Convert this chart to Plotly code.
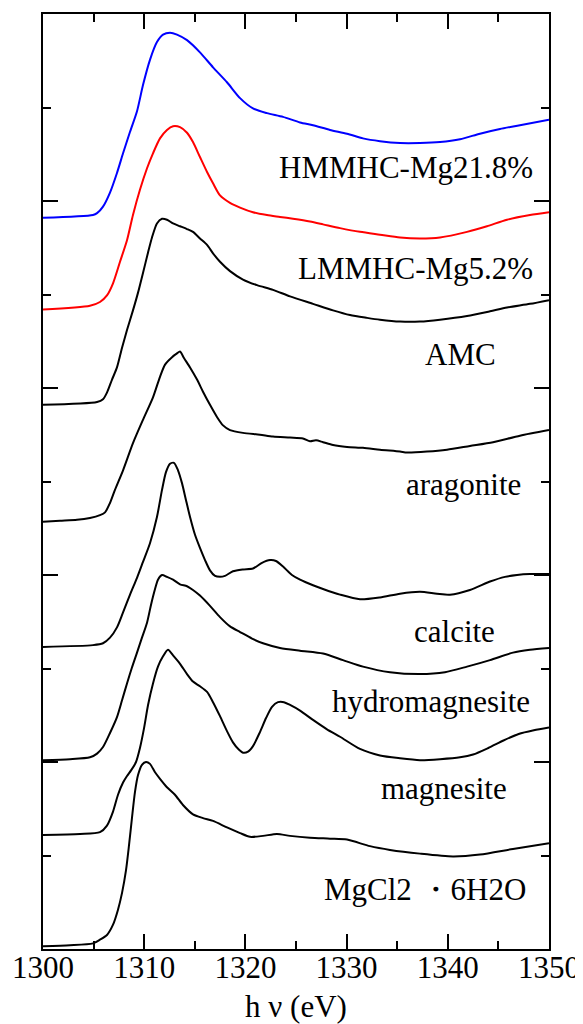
import plotly.graph_objects as go

# ---- data (energy in eV, normalized intensity with offsets) ----
labels = ["HMMHC-Mg21.8%", "LMMHC-Mg5.2%", "AMC", "aragonite", "calcite",
          "hydromagnesite", "magnesite", "MgCl2 \u30fb6H2O"]
colors = ["#0000ff", "#ff0000", "#000000", "#000000", "#000000",
          "#000000", "#000000", "#000000"]

hmmhc_e = [1300.0, 1304.94, 1305.34, 1305.93, 1306.62, 1307.31, 1307.91, 1308.60, 1309.29, 1309.88,
           1310.57, 1311.26, 1311.86, 1312.55, 1313.24, 1314.23, 1315.51, 1316.80, 1318.18, 1319.47,
           1320.75, 1322.13, 1323.72, 1325.40, 1326.68, 1328.36, 1330.04, 1331.62, 1333.30, 1335.28,
           1337.25, 1339.23, 1341.21, 1343.18, 1345.16, 1347.13, 1350.0]
hmmhc_y = [7.82, 7.85, 7.87, 7.94, 8.09, 8.30, 8.51, 8.74, 8.96, 9.24,
           9.51, 9.70, 9.78, 9.80, 9.78, 9.72, 9.59, 9.43, 9.27, 9.10,
           8.99, 8.94, 8.90, 8.84, 8.81, 8.76, 8.72, 8.67, 8.64, 8.62,
           8.62, 8.63, 8.66, 8.72, 8.77, 8.81, 8.87]

lmmhc_e = [1300.0, 1304.64, 1305.63, 1306.32, 1306.92, 1307.61, 1308.30, 1308.89, 1309.58, 1310.28,
           1310.87, 1311.56, 1312.25, 1312.85, 1313.54, 1314.23, 1314.82, 1315.51, 1316.21, 1316.80,
           1317.49, 1318.48, 1319.47, 1320.75, 1322.13, 1323.42, 1324.70, 1326.38, 1327.67, 1329.35,
           1331.32, 1333.30, 1335.28, 1337.25, 1339.23, 1341.90, 1343.87, 1345.85, 1348.12, 1350.0]
lmmhc_y = [6.84, 6.88, 6.92, 6.99, 7.12, 7.35, 7.58, 7.85, 8.12, 8.35,
           8.51, 8.67, 8.76, 8.80, 8.79, 8.73, 8.63, 8.47, 8.31, 8.19,
           8.06, 7.98, 7.93, 7.88, 7.85, 7.83, 7.81, 7.78, 7.75, 7.71,
           7.67, 7.64, 7.61, 7.60, 7.61, 7.67, 7.73, 7.80, 7.85, 7.88]

amc_e = [1300.0, 1305.34, 1305.93, 1306.32, 1306.82, 1307.31, 1307.81, 1308.30, 1308.89, 1309.39,
         1309.88, 1310.38, 1310.77, 1311.26, 1311.76, 1312.25, 1312.85, 1313.54, 1314.23, 1314.82,
         1315.51, 1316.21, 1316.80, 1317.49, 1318.48, 1319.76, 1321.15, 1322.73, 1324.41, 1326.68,
         1328.66, 1330.34, 1332.02, 1333.30, 1335.28, 1337.25, 1339.23, 1341.90, 1344.17, 1345.85,
         1348.12, 1350.0]
amc_y = [5.82, 5.85, 5.88, 5.95, 6.09, 6.22, 6.43, 6.62, 6.83, 7.02,
         7.23, 7.45, 7.61, 7.76, 7.81, 7.80, 7.76, 7.73, 7.70, 7.67,
         7.60, 7.53, 7.44, 7.35, 7.25, 7.16, 7.10, 7.05, 6.98, 6.90,
         6.83, 6.78, 6.75, 6.73, 6.71, 6.71, 6.73, 6.77, 6.82, 6.86,
         6.90, 6.94]

arag_e = [1300.0, 1301.68, 1303.36, 1304.64, 1305.63, 1306.13, 1306.62, 1307.11, 1307.91, 1308.89,
          1309.88, 1310.87, 1311.56, 1312.06, 1312.75, 1313.24, 1313.54, 1313.93, 1314.53, 1315.22,
          1315.81, 1316.50, 1317.19, 1317.79, 1318.48, 1319.76, 1321.44, 1322.73, 1324.41, 1325.69,
          1326.38, 1326.98, 1327.67, 1328.66, 1330.04, 1331.62, 1333.30, 1335.28, 1335.97, 1337.94,
          1339.92, 1342.19, 1344.47, 1347.13, 1350.0]
arag_y = [4.57, 4.58, 4.59, 4.61, 4.64, 4.67, 4.77, 4.91, 5.12, 5.41,
          5.66, 5.90, 6.12, 6.25, 6.33, 6.37, 6.39, 6.32, 6.22, 6.09,
          5.96, 5.82, 5.69, 5.60, 5.55, 5.52, 5.50, 5.48, 5.47, 5.46,
          5.43, 5.44, 5.42, 5.39, 5.37, 5.36, 5.34, 5.32, 5.31, 5.32,
          5.34, 5.38, 5.42, 5.49, 5.55]

calc_e = [1300.0, 1304.94, 1305.93, 1306.62, 1307.31, 1307.91, 1308.60, 1309.29, 1309.88, 1310.57,
          1311.26, 1311.76, 1312.15, 1312.55, 1312.94, 1313.34, 1313.74, 1314.13, 1314.53, 1315.02,
          1315.51, 1316.01, 1316.50, 1317.00, 1317.49, 1317.98, 1318.77, 1319.76, 1320.75, 1321.64,
          1322.43, 1323.02, 1323.72, 1324.60, 1325.40, 1326.68, 1327.67, 1329.35, 1331.32, 1333.30,
          1335.28, 1337.25, 1338.93, 1340.22, 1342.19, 1344.17, 1345.65, 1346.84, 1348.12, 1350.0]
calc_y = [3.23, 3.25, 3.27, 3.33, 3.44, 3.60, 3.79, 3.97, 4.14, 4.34,
          4.62, 4.91, 5.10, 5.19, 5.20, 5.12, 4.98, 4.80, 4.62, 4.43,
          4.29, 4.16, 4.05, 3.99, 3.98, 3.99, 4.04, 4.06, 4.07, 4.13,
          4.16, 4.15, 4.09, 4.00, 3.95, 3.89, 3.85, 3.79, 3.74, 3.76,
          3.80, 3.82, 3.80, 3.79, 3.84, 3.93, 3.98, 4.00, 4.01, 4.01]

hydro_e = [1300.0, 1302.67, 1304.64, 1305.34, 1305.93, 1306.62, 1307.31, 1307.81, 1308.30, 1308.79,
           1309.29, 1309.78, 1310.28, 1310.67, 1311.07, 1311.36, 1311.76, 1312.25, 1312.85, 1313.54,
           1314.23, 1314.82, 1315.51, 1316.50, 1317.49, 1318.48, 1319.47, 1320.65, 1321.74, 1323.42,
           1325.40, 1327.67, 1329.64, 1331.62, 1334.29, 1337.25, 1339.72, 1341.90, 1344.17, 1346.44,
           1348.12, 1350.0]
hydro_y = [2.02, 2.03, 2.05, 2.09, 2.16, 2.31, 2.48, 2.66, 2.84, 3.01,
           3.17, 3.33, 3.49, 3.68, 3.85, 3.95, 4.00, 3.98, 3.95, 3.90,
           3.88, 3.84, 3.78, 3.67, 3.55, 3.45, 3.39, 3.32, 3.27, 3.22,
           3.19, 3.16, 3.09, 3.02, 2.96, 2.94, 2.96, 3.02, 3.09, 3.17,
           3.20, 3.22]

magn_e = [1300.0, 1303.66, 1305.63, 1306.32, 1306.92, 1307.41, 1307.91, 1308.30, 1308.70, 1309.19,
          1309.58, 1309.98, 1310.38, 1310.87, 1311.36, 1311.86, 1312.35, 1312.85, 1313.54, 1314.23,
          1314.82, 1315.51, 1316.21, 1316.80, 1317.49, 1318.18, 1318.77, 1319.37, 1319.76, 1320.26,
          1320.75, 1321.44, 1322.04, 1322.63, 1323.22, 1323.81, 1324.41, 1325.40, 1326.68, 1328.06,
          1329.35, 1331.32, 1333.30, 1335.28, 1337.25, 1339.23, 1341.21, 1342.50, 1344.00, 1345.50,
          1347.00, 1348.50, 1350.0]
magn_y = [1.22, 1.23, 1.25, 1.32, 1.47, 1.65, 1.78, 1.85, 1.91, 2.00,
          2.15, 2.36, 2.61, 2.84, 3.02, 3.13, 3.20, 3.14, 3.05, 2.94,
          2.86, 2.81, 2.75, 2.64, 2.49, 2.33, 2.21, 2.13, 2.10, 2.11,
          2.17, 2.32, 2.47, 2.59, 2.64, 2.64, 2.61, 2.55, 2.45, 2.35,
          2.27, 2.14, 2.07, 2.04, 2.02, 2.03, 2.05, 2.08, 2.15, 2.23,
          2.30, 2.34, 2.37]

mgcl_e = [1300.0, 1302.67, 1304.94, 1305.63, 1306.32, 1306.92, 1307.41, 1307.81, 1308.20, 1308.50,
          1308.79, 1309.09, 1309.39, 1309.78, 1310.18, 1310.57, 1311.07, 1311.56, 1312.25, 1313.04,
          1313.83, 1314.82, 1315.81, 1316.80, 1318.18, 1319.47, 1320.45, 1321.74, 1323.12, 1324.41,
          1326.38, 1328.36, 1330.04, 1332.31, 1334.29, 1337.25, 1340.51, 1343.18, 1346.44, 1350.0]
mgcl_y = [0.03, 0.04, 0.06, 0.10, 0.15, 0.26, 0.42, 0.60, 0.84, 1.11,
          1.40, 1.68, 1.86, 1.97, 2.00, 1.98, 1.89, 1.82, 1.73, 1.65,
          1.54, 1.44, 1.40, 1.37, 1.30, 1.24, 1.20, 1.21, 1.23, 1.21,
          1.19, 1.18, 1.17, 1.10, 1.06, 1.02, 0.99, 1.01, 1.07, 1.13]

energies = [hmmhc_e, lmmhc_e, amc_e, arag_e, calc_e, hydro_e, magn_e, mgcl_e]
intensities = [hmmhc_y, lmmhc_y, amc_y, arag_y, calc_y, hydro_y, magn_y, mgcl_y]

# label anchor (right edge energy, vertical position)
label_x = [1348.6, 1348.6, 1344.96, 1347.4, 1344.86, 1348.3, 1346.05, 1347.9]
label_y = [8.36, 7.28, 6.36, 4.97, 3.40, 2.65, 1.72, 0.64]

x_ticks = [1300, 1310, 1320, 1330, 1340, 1350]

FONT = "Liberation Serif"

fig = go.Figure()
for e, y, c, name in zip(energies, intensities, colors, labels):
    fig.add_trace(go.Scatter(x=e, y=y, mode="lines", name=name,
                             line=dict(color=c, width=2, shape="spline", smoothing=0.7),
                             showlegend=False, hoverinfo="skip"))

for name, lx, ly in zip(labels, label_x, label_y):
    fig.add_annotation(x=lx, y=ly, xref="x", yref="y", text=name, showarrow=False,
                       xanchor="right", yanchor="middle",
                       font=dict(family=FONT, size=31, color="black"))

# page body adds an 8px offset; size the figure so the plot frame lands where the reference has it
fig.update_layout(
    width=575, height=1016,
    margin=dict(l=35, r=34, t=6, b=75, autoexpand=False),
    paper_bgcolor="white", plot_bgcolor="white",
    font=dict(family=FONT, color="black"),
)
fig.update_xaxes(
    range=[1300, 1350], tickmode="array", tickvals=x_ticks,
    ticks="inside", ticklen=15, tickwidth=2, tickcolor="black",
    minor=dict(dtick=5, tick0=1300, ticks="inside", ticklen=8, tickwidth=2, tickcolor="black"),
    showline=True, linewidth=2, linecolor="black", mirror="ticks",
    showgrid=False, zeroline=False, automargin=False,
    tickfont=dict(family=FONT, size=31, color="black"),
    ticklabelstandoff=-10,
    title=dict(text="h \u03bd (eV)", font=dict(family=FONT, size=31, color="black"), standoff=12),
)
fig.update_yaxes(
    range=[0, 10], dtick=2, tick0=0,
    ticks="inside", ticklen=15, tickwidth=2, tickcolor="black",
    minor=dict(dtick=1, tick0=0, ticks="inside", ticklen=8, tickwidth=2, tickcolor="black"),
    showline=True, linewidth=2, linecolor="black", mirror="ticks",
    showgrid=False, zeroline=False, showticklabels=False, automargin=False,
)

fig.write_html("out.html")
